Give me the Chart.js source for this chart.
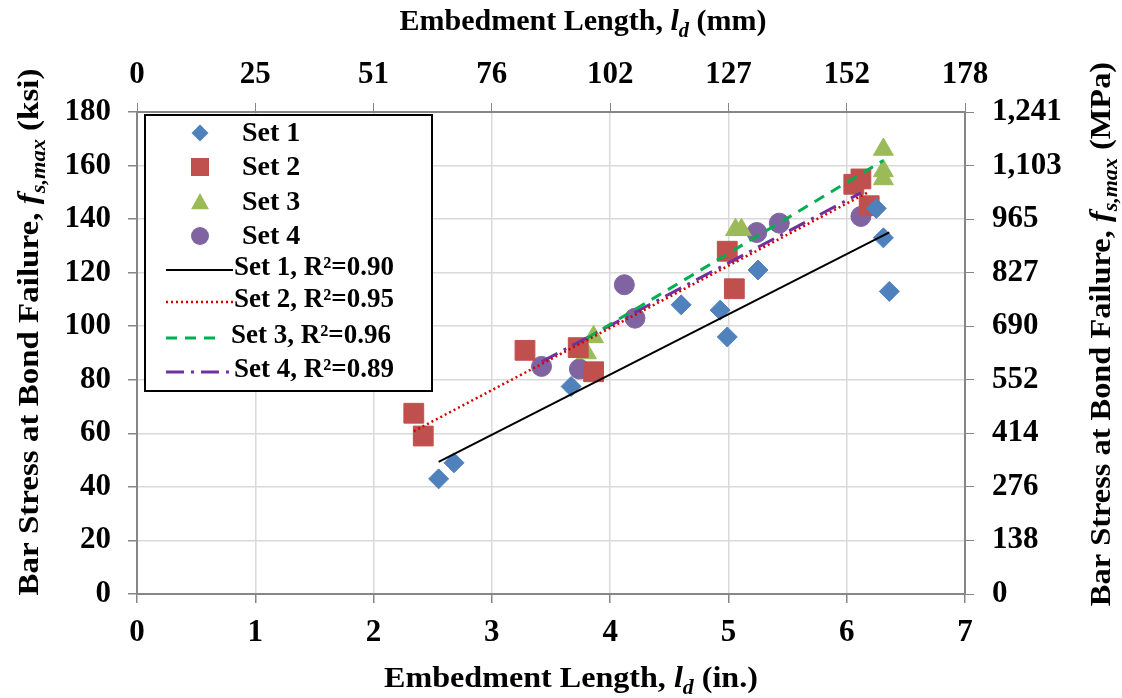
<!DOCTYPE html>
<html>
<head>
<meta charset="utf-8">
<script src="https://cdn.jsdelivr.net/npm/chart.js@4.4.1/dist/chart.umd.min.js"></script>
<style>
html, body { margin: 0; padding: 0; background: #fff; }
</style>
</head>
<body>
<canvas id="myChart" width="1122" height="698"></canvas>
<script>
// data (embedment length in., bar stress ksi)
var set1X = [2.55, 2.68, 3.67, 4.60, 4.93, 4.99, 5.25, 6.25, 6.31, 6.36];
var set1Y = [43, 49, 77.5, 108, 106, 96, 121, 144, 133, 113];
var set2X = [2.34, 2.42, 3.28, 3.73, 3.86, 4.99, 5.05, 6.06, 6.12, 6.19];
var set2Y = [67.5, 59, 91, 92, 83, 128, 114, 153, 155, 145];
var set3X = [3.80, 3.86, 5.06, 5.11, 6.31, 6.31, 6.31];
var set3Y = [90, 96, 136, 136, 166, 158, 155];
var set4X = [3.42, 3.74, 4.12, 4.21, 5.24, 5.43, 6.12];
var set4Y = [85, 84, 115.5, 103, 135, 138.5, 141];

var pointLabels = ['Set 1', 'Set 2', 'Set 3', 'Set 4'];
var trendLabels = ['Set 1, R\u00b2=0.90', 'Set 2, R\u00b2=0.95', 'Set 3, R\u00b2=0.96', 'Set 4, R\u00b2=0.89'];

// tick labels of the secondary axes
var mmTicks = ['0', '25', '51', '76', '102', '127', '152', '178'];
var mpaTicks = ['0', '138', '276', '414', '552', '690', '827', '965', '1,103', '1,241'];

var FONT = '"Liberation Serif", "Times New Roman", serif';
var AXIS_GRAY = '#868686';

function toPoints(xs, ys) {
    return xs.map(function (x, i) { return {x: x, y: ys[i]}; });
}

// least squares line over the range of the set (like Excel's linear trendline)
function trend(xs, ys) {
    var n = xs.length, mx = 0, my = 0, sxy = 0, sxx = 0;
    for (var i = 0; i < n; i++) { mx += xs[i]; my += ys[i]; }
    mx /= n; my /= n;
    for (var j = 0; j < n; j++) {
        sxy += (xs[j] - mx) * (ys[j] - my);
        sxx += (xs[j] - mx) * (xs[j] - mx);
    }
    var b = sxy / sxx, a = my - b * mx;
    var x0 = Math.min.apply(null, xs), x1 = Math.max.apply(null, xs);
    return [{x: x0, y: a + b * x0}, {x: x1, y: a + b * x1}];
}

var markerStyles = [
    {pointStyle: 'rectRot', radius: 10, color: '#4F81BD'},
    {pointStyle: 'rect', radius: 14, color: '#C0504D'},
    {pointStyle: 'triangle', radius: 11.5, color: '#9BBB59'},
    {pointStyle: 'circle', radius: 10, color: '#8064A2'}
];
var lineStyles = [
    {color: '#000000', dash: [], width: 2},
    {color: '#D40000', dash: [2, 3], width: 2.5},
    {color: '#00B050', dash: [11, 8], width: 3},
    {color: '#7030A0', dash: [18, 7, 3, 7], width: 3}
];

var setsX = [set1X, set2X, set3X, set4X];
var setsY = [set1Y, set2Y, set3Y, set4Y];

var datasets = [];
for (var k = 0; k < 4; k++) {
    datasets.push({
        label: trendLabels[k],
        data: trend(setsX[k], setsY[k]),
        showLine: true,
        borderColor: lineStyles[k].color,
        borderWidth: lineStyles[k].width,
        borderDash: lineStyles[k].dash,
        pointRadius: 0,
        fill: false,
        order: 0
    });
}
for (var m = 0; m < 4; m++) {
    datasets.push({
        label: pointLabels[m],
        data: toPoints(setsX[m], setsY[m]),
        pointStyle: markerStyles[m].pointStyle,
        pointRadius: markerStyles[m].radius,
        pointHoverRadius: markerStyles[m].radius,
        backgroundColor: markerStyles[m].color,
        borderColor: markerStyles[m].color,
        borderWidth: 1,
        showLine: false,
        order: 1
    });
}

// text with italic / subscript pieces, sx = horizontal stretch
function richWidth(ctx, segs, size) {
    var w = 0;
    segs.forEach(function (s) {
        var fs = s.sub ? size * 0.68 : size;
        ctx.font = (s.i ? 'italic ' : '') + 'bold ' + fs + 'px ' + FONT;
        w += ctx.measureText(s.t).width;
    });
    return w;
}
function drawRich(ctx, segs, cx, cy, size, angle, sx) {
    ctx.save();
    ctx.translate(cx, cy);
    ctx.rotate(angle || 0);
    ctx.scale(sx || 1, 1);
    ctx.fillStyle = '#000';
    ctx.textBaseline = 'alphabetic';
    ctx.textAlign = 'left';
    var x = -richWidth(ctx, segs, size) / 2;
    var base = size * 0.33;
    segs.forEach(function (s) {
        var fs = s.sub ? size * 0.68 : size;
        ctx.font = (s.i ? 'italic ' : '') + 'bold ' + fs + 'px ' + FONT;
        ctx.fillText(s.t, x, base + (s.sub ? size * 0.22 : 0));
        x += ctx.measureText(s.t).width;
    });
    ctx.restore();
}

var titlesPlugin = {
    id: 'axisTitles',
    afterDraw: function (chart) {
        var ctx = chart.ctx;
        drawRich(ctx, [{t: 'Embedment Length, '}, {t: 'l', i: true}, {t: 'd', i: true, sub: true}, {t: ' (in.)'}], 571, 677, 30, 0, 1.07);
        drawRich(ctx, [{t: 'Embedment Length, '}, {t: 'l', i: true}, {t: 'd', i: true, sub: true}, {t: ' (mm)'}], 583, 20, 30, 0, 1.0);
        drawRich(ctx, [{t: 'Bar Stress at Bond Failure, '}, {t: 'f', i: true}, {t: 's,max', i: true, sub: true}, {t: ' (ksi)'}], 28, 332, 30, -Math.PI / 2, 1.1);
        drawRich(ctx, [{t: 'Bar Stress at Bond Failure, '}, {t: 'f', i: true}, {t: 's,max', i: true, sub: true}, {t: ' (MPa)'}], 1100, 334, 30, -Math.PI / 2, 1.08);
    }
};

function drawMarker(ctx, style, x, y, r, color) {
    ctx.fillStyle = color;
    ctx.beginPath();
    if (style === 'rectRot') {
        ctx.moveTo(x, y - r); ctx.lineTo(x + r, y); ctx.lineTo(x, y + r); ctx.lineTo(x - r, y);
    } else if (style === 'rect') {
        ctx.rect(x - r, y - r, 2 * r, 2 * r);
    } else if (style === 'triangle') {
        ctx.moveTo(x, y - r); ctx.lineTo(x + r, y + r * 0.8); ctx.lineTo(x - r, y + r * 0.8);
    } else {
        ctx.arc(x, y, r, 0, Math.PI * 2);
    }
    ctx.closePath();
    ctx.fill();
}

var legendPlugin = {
    id: 'boxLegend',
    afterDraw: function (chart) {
        var ctx = chart.ctx;
        ctx.save();
        ctx.fillStyle = '#fff';
        ctx.fillRect(145, 115, 287, 276);
        ctx.strokeStyle = '#000';
        ctx.lineWidth = 2;
        ctx.strokeRect(145, 115, 287, 276);
        ctx.textBaseline = 'middle';
        ctx.textAlign = 'left';
        ctx.fillStyle = '#000';
        var rowsA = [133, 167, 202, 236];
        var sizes = [8.5, 9, 9, 9];
        for (var i = 0; i < 4; i++) {
            drawMarker(ctx, markerStyles[i].pointStyle, 200, rowsA[i], sizes[i], markerStyles[i].color);
            ctx.fillStyle = '#000';
            ctx.font = 'bold 28px ' + FONT;
            ctx.fillText(pointLabels[i], 242, rowsA[i] + 1);
        }
        var rowsB = [268, 300, 336, 370];
        for (var j = 0; j < 4; j++) {
            ctx.strokeStyle = lineStyles[j].color;
            ctx.lineWidth = lineStyles[j].width;
            ctx.setLineDash(lineStyles[j].dash);
            ctx.beginPath();
            ctx.moveTo(166, rowsB[j] + 2);
            ctx.lineTo(j === 2 ? 223 : 233, rowsB[j] + 2);
            ctx.stroke();
            ctx.setLineDash([]);
            ctx.fillStyle = '#000';
            ctx.font = 'bold 27px ' + FONT;
            ctx.fillText(trendLabels[j], j === 2 ? 231 : 234, rowsB[j]);
        }
        ctx.restore();
    }
};

var tickFont = {family: FONT, size: 31, weight: 'bold'};

var chartOptions = {
    responsive: false,
    animation: false,
    devicePixelRatio: 1,
    layout: {padding: 0},
    plugins: {legend: {display: false}, tooltip: {enabled: false}},
    scales: {
        x: {
            type: 'linear', position: 'bottom', min: 0, max: 7,
            ticks: {stepSize: 1, color: '#000', font: tickFont, padding: 11, autoSkip: false, maxRotation: 0},
            grid: {color: '#d9d9d9', lineWidth: 1.5, tickColor: AXIS_GRAY, tickLength: 9},
            border: {color: AXIS_GRAY, width: 2},
            afterFit: function (s) { s.height = 104; }
        },
        x2: {
            type: 'linear', position: 'top', min: 0, max: 7,
            ticks: {stepSize: 1, color: '#000', font: tickFont, padding: 9, autoSkip: false, maxRotation: 0,
                callback: function (v, i) { return mmTicks[i]; }},
            grid: {drawOnChartArea: false, tickColor: AXIS_GRAY, tickLength: 9},
            border: {color: AXIS_GRAY, width: 2},
            afterFit: function (s) { s.height = 112; }
        },
        y: {
            type: 'linear', position: 'left', min: 0, max: 180,
            ticks: {stepSize: 20, color: '#000', font: tickFont, padding: 17, autoSkip: false},
            grid: {color: '#d9d9d9', lineWidth: 1.5, tickColor: AXIS_GRAY, tickLength: 9},
            border: {color: AXIS_GRAY, width: 2},
            afterFit: function (s) { s.width = 137; }
        },
        y2: {
            type: 'linear', position: 'right', min: 0, max: 180,
            ticks: {stepSize: 20, color: '#000', font: tickFont, padding: 18, autoSkip: false,
                callback: function (v, i) { return mpaTicks[i]; }},
            grid: {drawOnChartArea: false, tickColor: AXIS_GRAY, tickLength: 9},
            border: {color: AXIS_GRAY, width: 2},
            afterFit: function (s) { s.width = 157; }
        }
    }
};

var element = document.getElementById('myChart').getContext('2d');
var chart = new Chart(element, {
    type: 'scatter',
    data: {datasets: datasets},
    options: chartOptions,
    plugins: [titlesPlugin, legendPlugin]
});
</script>
</body>
</html>
